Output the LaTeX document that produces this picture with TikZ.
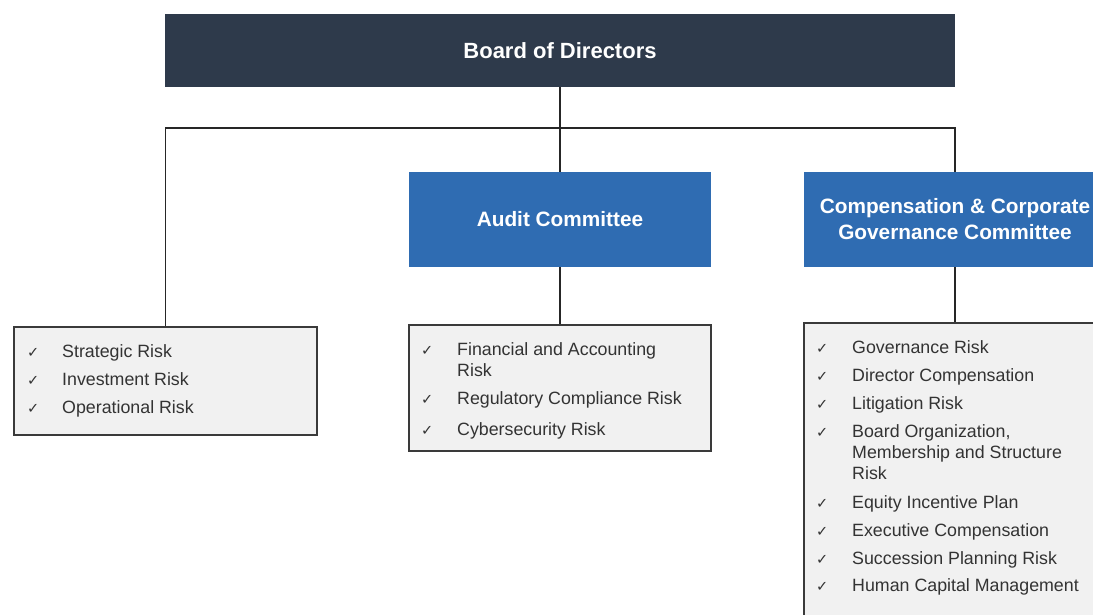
\documentclass[tikz,border=0pt]{standalone}
\usepackage{fontspec}
\setmainfont{Liberation Sans}
\newfontfamily\symfont{DejaVu Sans}
\definecolor{boardfill}{HTML}{2E3A4B}
\definecolor{cmtfill}{HTML}{2F6CB2}
\definecolor{listfill}{HTML}{F1F1F1}
\definecolor{listline}{HTML}{3A3A3A}
\definecolor{itemtext}{HTML}{333333}
\begin{document}
\begin{tikzpicture}[x=1pt,y=-1pt,
  boardbox/.style={rectangle, fill=boardfill, draw=none, minimum width=790pt, minimum height=73pt, inner sep=0pt,
    text=white, font=\bfseries\fontsize{22}{25}\selectfont},
  cmtbox/.style={rectangle, fill=cmtfill, draw=none, minimum width=302pt, minimum height=95pt, inner sep=0pt,
    text=white, align=center, font=\bfseries\fontsize{20.8}{26}\selectfont},
  listbox/.style={rectangle, fill=listfill, draw=listline, line width=1.6pt, inner sep=0pt},
  itemtxt/.style={anchor=base west, inner sep=0pt, text=itemtext, font=\fontsize{17.8}{21}\selectfont},
  chk/.style={anchor=base west, inner sep=0pt, text=itemtext, font=\symfont\fontsize{14.5}{16}\selectfont},
  conn/.style={draw=black!85, line width=1.6pt}
]
\useasboundingbox (0,0) rectangle (1093,615);

% boxes
\node[boardbox] (board) at (560,50.5) {Board of Directors};
\node[cmtbox] (audit) at (560,219.5) {Audit Committee};
\node[cmtbox] (comp) at (955,219.5) {Compensation \& Corporate\\Governance Committee};
\node[listbox, minimum width=303pt, minimum height=108pt] (llist) at (165.5,381) {};
\node[listbox, minimum width=302pt, minimum height=126pt] (mlist) at (560,388) {};
\node[listbox, minimum width=302pt, minimum height=316pt] (rlist) at (955,481) {};

% connectors
\coordinate (bus) at (560,128);
\draw[conn] (board.south) -- (bus);
\draw[conn] (llist.north) |- (bus) -| (comp.north);
\draw[conn] (bus) -- (audit.north);
\draw[conn] (audit.south) -- (mlist.north);
\draw[conn] (comp.south) -- (rlist.north);

% left list
\foreach \y/\t [count=\i] in {357/Strategic Risk, 385/Investment Risk, 413/Operational Risk}{
  \node[chk] (lc\i) at (27,\y) {✓};
  \node[itemtxt] (lt\i) at (62,\y) {\t};
}

% middle list
\node[chk] (mc1) at (421,355) {✓};
\node[itemtxt] (mt1) at (457,355) {Financial and Accounting};
\node[itemtxt] (mt1b) at (457,376) {Risk};
\node[chk] (mc2) at (421,404) {✓};
\node[itemtxt] (mt2) at (457,404) {Regulatory Compliance Risk};
\node[chk] (mc3) at (421,435) {✓};
\node[itemtxt] (mt3) at (457,435) {Cybersecurity Risk};

% right list
\foreach \y/\t [count=\i] in {353/Governance Risk, 381/Director Compensation, 409/Litigation Risk,
   437/{Board Organization,}, 508/Equity Incentive Plan, 536/Executive Compensation,
   564/Succession Planning Risk, 591/Human Capital Management}{
  \node[chk] (rc\i) at (816,\y) {✓};
  \node[itemtxt] (rt\i) at (852,\y) {\t};
}
\node[itemtxt] (rt4b) at (852,458) {Membership and Structure};
\node[itemtxt] (rt4c) at (852,479) {Risk};
\end{tikzpicture}
\end{document}
